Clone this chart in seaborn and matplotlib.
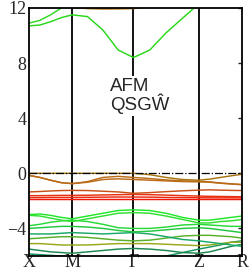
import numpy as np
import pandas as pd
import matplotlib
matplotlib.use('Agg')
import matplotlib.pyplot as plt
import seaborn as sns

# high-symmetry points and their positions along the path
kpt_labels = ['X', 'M', 'Γ', 'Z', 'R']
kpt_pos = [0.0, 0.5, 1.209, 1.965, 2.465]

# bands read at quarter points of every segment (17 k-points), energies in eV
c_up1 = [10.9, 11.1, 11.5, 12.0, 12.6, 13.0, 13.2, 13.2, 13.0, 12.8, 12.8, 12.9, 13.0, 13.0, 13.0, 13.0, 13.0]
c_up2 = [10.7, 10.76, 11.0, 11.3, 11.5, 11.37, 10.4, 8.95, 8.4, 8.95, 10.2, 11.25, 12.3, 12.9, 13.0, 13.0, 13.0]
c_up3 = [12.6, 12.4, 12.2, 12.1, 12.05, 11.95, 11.92, 11.93, 11.95, 12.1, 12.3, 12.5, 12.6, 12.6, 12.6, 12.6, 12.6]

v_top = [0.0, 0.0, 0.0, 0.0, 0.0, 0.0, 0.0, 0.0, 0.0, -0.1, -0.3, -0.45, -0.5, -0.42, -0.3, -0.18, -0.07]
v_two = [-0.15, -0.3, -0.5, -0.68, -0.75, -0.6, -0.3, -0.22, -0.3, -0.38, -0.48, -0.55, -0.58, -0.62, -0.7, -0.76, -0.82]
v_three = [-0.15, -0.3, -0.5, -0.68, -0.75, -0.65, -0.45, -0.4, -0.45, -0.5, -0.55, -0.6, -0.62, -0.65, -0.72, -0.78, -0.82]
v_rb = [-1.35, -1.32, -1.28, -1.25, -1.24, -1.25, -1.3, -1.35, -1.45, -1.4, -1.33, -1.27, -1.22, -1.2, -1.22, -1.24, -1.25]
r_one = [-1.62, -1.62, -1.61, -1.6, -1.6, -1.59, -1.57, -1.55, -1.53, -1.55, -1.58, -1.62, -1.65, -1.67, -1.68, -1.69, -1.7]
r_two = [-1.76, -1.76, -1.75, -1.75, -1.75, -1.74, -1.73, -1.72, -1.72, -1.73, -1.75, -1.76, -1.77, -1.78, -1.78, -1.78, -1.78]
r_three = [-1.9, -1.9, -1.9, -1.9, -1.9, -1.9, -1.9, -1.9, -1.9, -1.9, -1.9, -1.9, -1.9, -1.9, -1.9, -1.9, -1.9]

g_one = [-3.0, -2.95, -3.05, -3.2, -3.3, -3.1, -2.9, -2.7, -2.65, -2.7, -2.9, -3.2, -3.4, -3.4, -3.3, -3.2, -3.1]
g_two = [-3.05, -3.1, -3.25, -3.4, -3.5, -3.3, -3.1, -2.9, -2.85, -2.9, -3.1, -3.35, -3.6, -3.6, -3.5, -3.45, -3.35]
g_three = [-3.8, -3.7, -3.55, -3.45, -3.4, -3.5, -3.7, -3.95, -4.0, -4.0, -3.9, -3.75, -3.7, -3.75, -3.8, -3.85, -3.85]
g_four = [-4.0, -3.95, -3.9, -3.85, -3.85, -3.9, -4.0, -4.15, -4.25, -4.2, -4.1, -4.0, -3.95, -4.0, -4.1, -4.2, -4.3]
g_five = [-4.4, -4.4, -4.4, -4.35, -4.3, -4.35, -4.4, -4.35, -4.3, -4.4, -4.6, -4.8, -4.9, -5.0, -5.1, -5.2, -5.3]
g_six = [-4.75, -4.7, -4.65, -4.6, -4.6, -4.65, -4.75, -4.85, -4.9, -4.85, -4.7, -4.55, -4.5, -4.5, -4.55, -4.6, -4.7]
g_seven = [-5.1, -5.1, -5.15, -5.2, -5.2, -5.2, -5.15, -5.1, -5.1, -5.1, -5.15, -5.2, -5.25, -5.2, -5.1, -5.0, -5.0]
g_eight = [-5.5, -5.6, -5.7, -5.75, -5.8, -5.7, -5.6, -5.5, -5.45, -5.5, -5.6, -5.75, -5.8, -5.7, -5.5, -5.3, -5.15]
g_nine = [-5.85, -5.9, -5.95, -6.0, -6.05, -6.1, -6.2, -6.3, -6.3, -6.2, -6.0, -5.75, -5.5, -5.35, -5.2, -5.0, -4.9]

bands = {
    'c_up1': (c_up1, '#30d820'), 'c_up2': (c_up2, '#28d818'), 'c_up3': (c_up3, '#b87818'),
    'g_nine': (g_nine, '#189860'), 'g_eight': (g_eight, '#1a8850'), 'g_seven': (g_seven, '#98a818'),
    'g_six': (g_six, '#58b028'), 'g_five': (g_five, '#18a868'), 'g_four': (g_four, '#20c840'),
    'g_three': (g_three, '#28d838'), 'g_two': (g_two, '#30e030'), 'g_one': (g_one, '#20e828'),
    'r_three': (r_three, '#f01808'), 'r_two': (r_two, '#ea2a10'), 'r_one': (r_one, '#e83010'),
    'v_rb': (v_rb, '#c85018'), 'v_three': (v_three, '#c06a18'), 'v_two': (v_two, '#b86c18'),
    'v_top': (v_top, '#a87410'),
}


def kpath():
    k = []
    for i in range(4):
        seg = np.linspace(kpt_pos[i], kpt_pos[i + 1], 5)
        k.extend(seg if i == 0 else seg[1:])
    return np.array(k)


def plot_bands():
    k = kpath()
    rows = []
    for name, (vals, _) in bands.items():
        for kk, e in zip(k, vals):
            rows.append({'k': kk, 'E': e, 'band': name})
    df = pd.DataFrame(rows)
    palette = {name: col for name, (_, col) in bands.items()}

    fig = plt.figure(figsize=(2.49, 2.74), dpi=100)
    ax = fig.add_axes([0.1165, 0.0657, 0.8555, 0.9053])
    sns.lineplot(data=df, x='k', y='E', hue='band', palette=palette, units='band',
                 estimator=None, sort=False, legend=False, lw=1.05, ax=ax)

    for x in kpt_pos[1:-1]:
        ax.axvline(x, color='k', lw=1.3, zorder=1)
    ax.axhline(0, color='k', ls='-.', lw=0.9, zorder=5)

    ax.set_xlim(kpt_pos[0], kpt_pos[-1])
    ax.set_ylim(-6, 12)
    ax.set_xticks(kpt_pos)
    ax.set_xticklabels(kpt_labels, fontfamily='Liberation Serif', fontsize=13)
    ax.set_yticks([12, 8, 4, 0, -4])
    ax.set_yticklabels(['12', '8', '4', '0', '\u22124'], fontfamily='Liberation Serif', fontsize=13)
    ax.set_xlabel('')
    ax.set_ylabel('')
    ax.tick_params(axis='y', direction='in', right=True, length=3, width=1, pad=2)
    ax.tick_params(axis='x', length=0, pad=-1.5)
    for sp in ax.spines.values():
        sp.set_linewidth(1.3)
        sp.set_color('k')

    ax.text(0.94, 5.6, 'AFM\nQSGŴ', family='Liberation Sans', fontsize=13.5,
            ha='left', va='center', linespacing=0.95, zorder=6,
            bbox=dict(facecolor='white', edgecolor='none', pad=1))

    fig.savefig('out.png', dpi=100)


if __name__ == "__main__":
    sns.set_style('white')
    plot_bands()
